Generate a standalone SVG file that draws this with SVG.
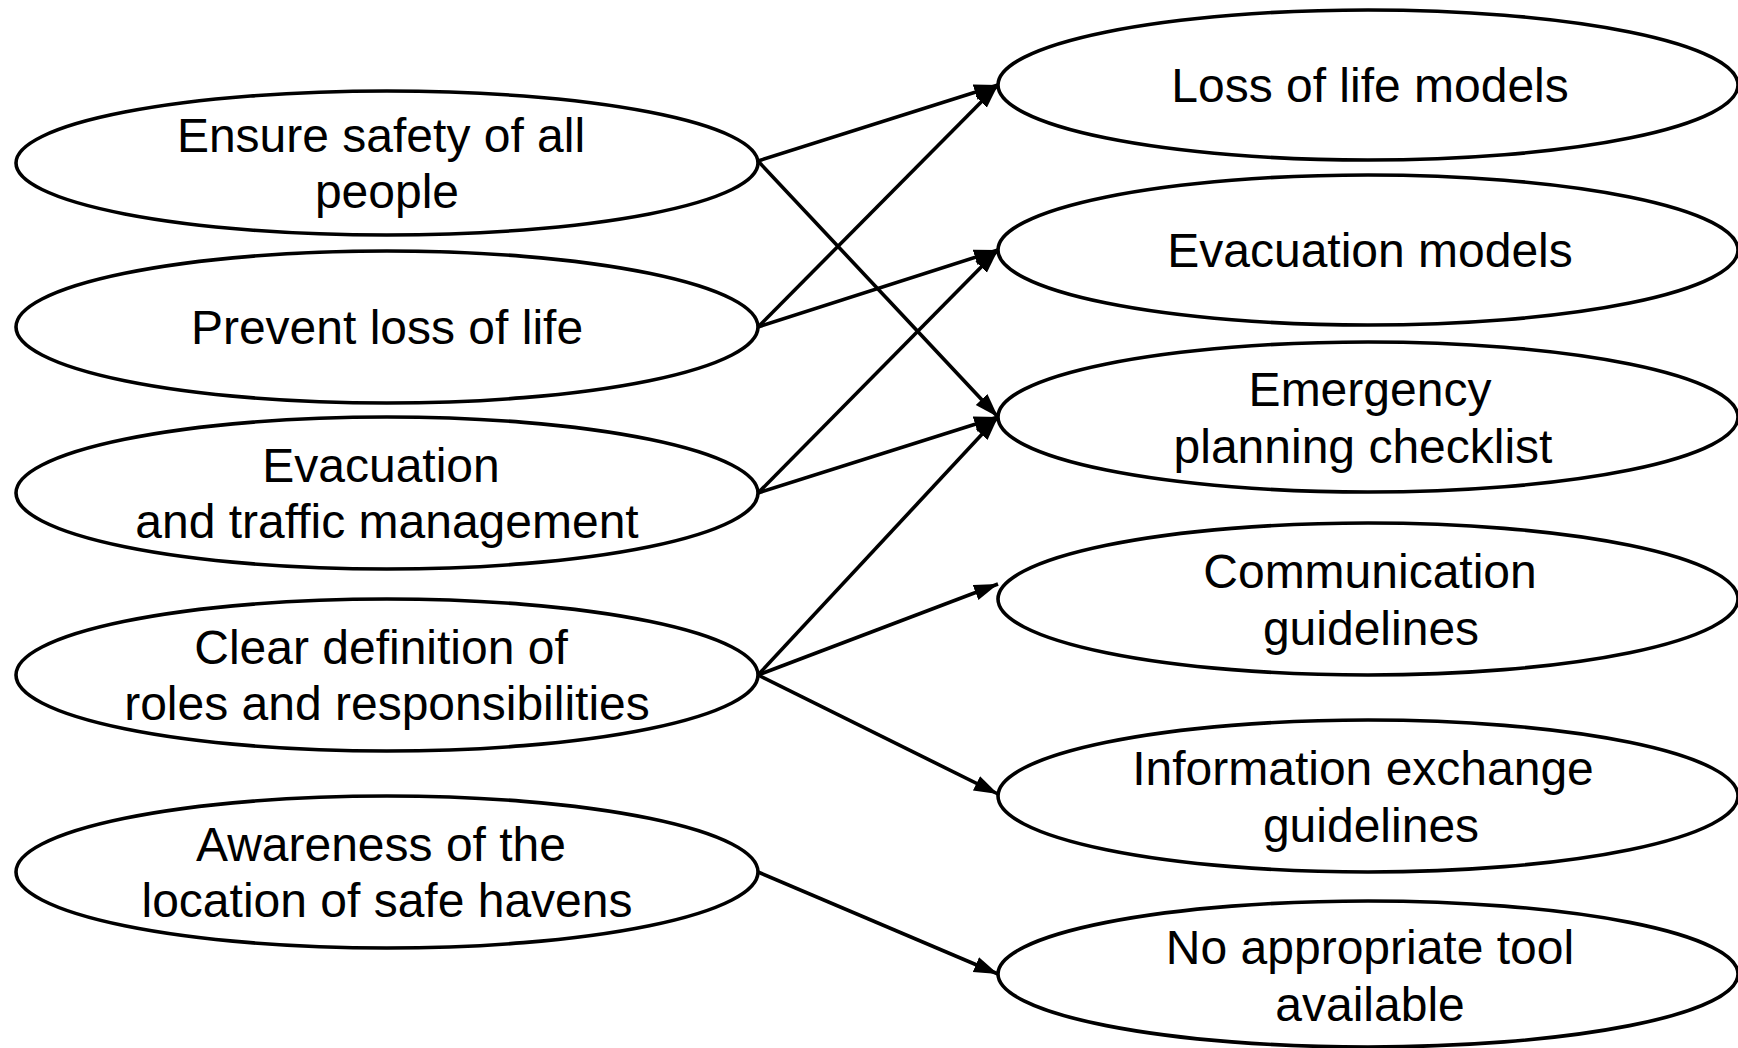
<svg xmlns="http://www.w3.org/2000/svg" width="1738" height="1048" viewBox="0 0 1738 1048">
<defs>
<style>
.n ellipse{fill:#fff;stroke:#000;stroke-width:3.6}
.n text{font-family:"Liberation Sans",Arial,sans-serif;font-size:48px;fill:#000;text-anchor:middle}
.c line{stroke:#000;stroke-width:3.6;marker-end:url(#ah)}
</style>
<marker id="ah" markerUnits="userSpaceOnUse" markerWidth="26" markerHeight="18" refX="24" refY="8" orient="auto">
<path d="M0,0 L24,8 L0,16 z" fill="#000"/>
</marker>
</defs>
<rect width="1738" height="1048" fill="#fff"/>
<g id="L1" class="n"><ellipse cx="387" cy="163" rx="371" ry="72"/><text x="381" y="152">Ensure safety of all</text><text x="387" y="208">people</text></g>
<g id="L2" class="n"><ellipse cx="387" cy="327" rx="371" ry="76"/><text x="387" y="344">Prevent loss of life</text></g>
<g id="L3" class="n"><ellipse cx="387" cy="493" rx="371" ry="76"/><text x="381" y="482">Evacuation</text><text x="387" y="538">and traffic management</text></g>
<g id="L4" class="n"><ellipse cx="387" cy="675" rx="371" ry="76"/><text x="381" y="664">Clear definition of</text><text x="387" y="720">roles and responsibilities</text></g>
<g id="L5" class="n"><ellipse cx="387" cy="872" rx="371" ry="76"/><text x="381" y="861">Awareness of the</text><text x="387" y="917">location of safe havens</text></g>
<g id="R1" class="n"><ellipse cx="1368" cy="85" rx="370" ry="75"/><text x="1370" y="102">Loss of life models</text></g>
<g id="R2" class="n"><ellipse cx="1368" cy="250" rx="370" ry="75"/><text x="1370" y="267">Evacuation models</text></g>
<g id="R3" class="n"><ellipse cx="1368" cy="417" rx="370" ry="75"/><text x="1370" y="406">Emergency</text><text x="1363" y="463">planning checklist</text></g>
<g id="R4" class="n"><ellipse cx="1368" cy="599" rx="370" ry="76"/><text x="1370" y="588">Communication</text><text x="1371" y="645">guidelines</text></g>
<g id="R5" class="n"><ellipse cx="1368" cy="796" rx="370" ry="76"/><text x="1363" y="785">Information exchange</text><text x="1371" y="842">guidelines</text></g>
<g id="R6" class="n"><ellipse cx="1368" cy="974" rx="370" ry="73"/><text x="1370" y="964">No appropriate tool</text><text x="1370" y="1021">available</text></g>
<g id="connectors" class="c">
<line x1="758" y1="161" x2="998" y2="85"/>
<line x1="758" y1="161" x2="998" y2="417"/>
<line x1="758" y1="327" x2="998" y2="85"/>
<line x1="758" y1="327" x2="998" y2="250"/>
<line x1="758" y1="493" x2="998" y2="250"/>
<line x1="758" y1="493" x2="998" y2="417"/>
<line x1="758" y1="675" x2="998" y2="417"/>
<line x1="758" y1="675" x2="998" y2="584"/>
<line x1="758" y1="675" x2="998" y2="794"/>
<line x1="758" y1="872" x2="998" y2="974"/>
</g>
</svg>
